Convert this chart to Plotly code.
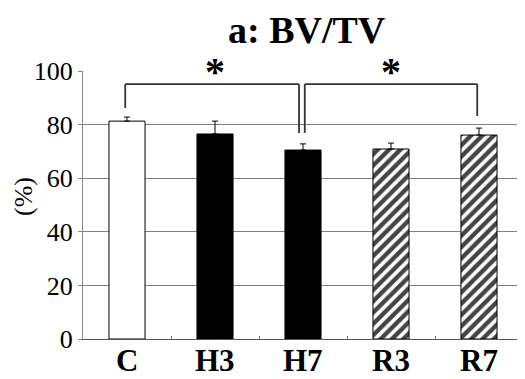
import plotly.graph_objects as go

categories = ["C", "H3", "H7", "R3", "R7"]
values = [81.3, 76.5, 70.5, 70.9, 76.1]
errors = [1.5, 4.8, 2.3, 2.2, 2.6]
fill_colors = ["white", "black", "black", "white", "white"]
patterns = ["", "", "", "/", "/"]
tick_vals = [0, 20, 40, 60, 80, 100]

# significance brackets
sig_pairs = [(0, 2), (2, 4)]
sig_top = [95.1, 95.1]
sig_left_bottom = [86.2, 76.9]
sig_right_bottom = [76.9, 83.2]
sig_offsets = [(-0.02, -0.045), (0.02, -0.02)]

FONT = "Liberation Serif"
PAGE_PAD = 8  # default body margin of the html page
MARGIN_B = 40
PLOT_H = 268

fig = go.Figure()
fig.add_trace(go.Bar(
    x=categories,
    y=values,
    width=0.41,
    marker=dict(
        color=fill_colors,
        line=dict(color="black", width=1),
        pattern=dict(shape=patterns, fgcolor="black", bgcolor="white",
                     size=8, solidity=0.55, fgopacity=1, fillmode="overlay"),
    ),
    error_y=dict(type="data", symmetric=False, array=errors,
                 arrayminus=[0] * len(errors), color="black",
                 thickness=1, width=3),
    showlegend=False,
))

shapes = []
annotations = []
for (a, b), top, lb, rb, (oa, ob) in zip(sig_pairs, sig_top, sig_left_bottom,
                                        sig_right_bottom, sig_offsets):
    xa, xb = a + oa, b + ob
    line = dict(color="#333333", width=1.8)
    shapes.append(dict(type="line", xref="x", yref="y", x0=xa, x1=xa, y0=lb, y1=top, line=line))
    shapes.append(dict(type="line", xref="x", yref="y", x0=xa, x1=xb, y0=top, y1=top, line=line))
    shapes.append(dict(type="line", xref="x", yref="y", x0=xb, x1=xb, y0=rb, y1=top, line=line))
    annotations.append(dict(x=(a + b) / 2, y=0.998, xref="x", yref="paper", text="<b>*</b>",
                            showarrow=False, font=dict(family=FONT, size=40, color="black"),
                            xanchor="center", yanchor="middle"))

# category labels under the axis
for c in categories:
    annotations.append(dict(x=c, y=-MARGIN_B / PLOT_H, xref="x", yref="paper",
                            text="<b>%s</b>" % c, showarrow=False, borderpad=0,
                            xanchor="center", yanchor="bottom",
                            font=dict(family=FONT, size=31, color="black")))

annotations.append(dict(x=-0.134, y=0.53, xref="paper", yref="paper", text="(%)",
                        textangle=-90, showarrow=False, xanchor="center", yanchor="middle",
                        font=dict(family=FONT, size=26, color="black")))
annotations.append(dict(x=0.509, y=1.153, xref="paper", yref="paper",
                        text="<b>a: BV/TV</b>", showarrow=False, xanchor="center",
                        borderpad=0,
                        font=dict(family=FONT, size=38, color="black"), yanchor="middle"))

fig.update_layout(
    width=525 - PAGE_PAD, height=379 - PAGE_PAD,
    margin=dict(l=83 - PAGE_PAD, r=2, t=71 - PAGE_PAD, b=MARGIN_B),
    plot_bgcolor="white", paper_bgcolor="white",
    shapes=shapes, annotations=annotations,
    bargap=0.5,
)
fig.update_xaxes(
    type="category",
    range=[-0.5, 4.5],
    showticklabels=False,
    showline=True, linecolor="#555555", linewidth=1,
    ticks="inside", tickson="boundaries", ticklen=3, tickcolor="#777777",
    showgrid=False, zeroline=False, automargin=False,
)
fig.update_yaxes(
    range=[0, 100],
    tickvals=tick_vals,
    tickfont=dict(family=FONT, size=26, color="black"),
    showgrid=True, gridcolor="#808080", gridwidth=1,
    showline=True, linecolor="#888888", linewidth=1,
    ticks="outside", ticklen=4, tickcolor="#888888",
    zeroline=False, automargin=False,
)
fig.write_html("out.html")
